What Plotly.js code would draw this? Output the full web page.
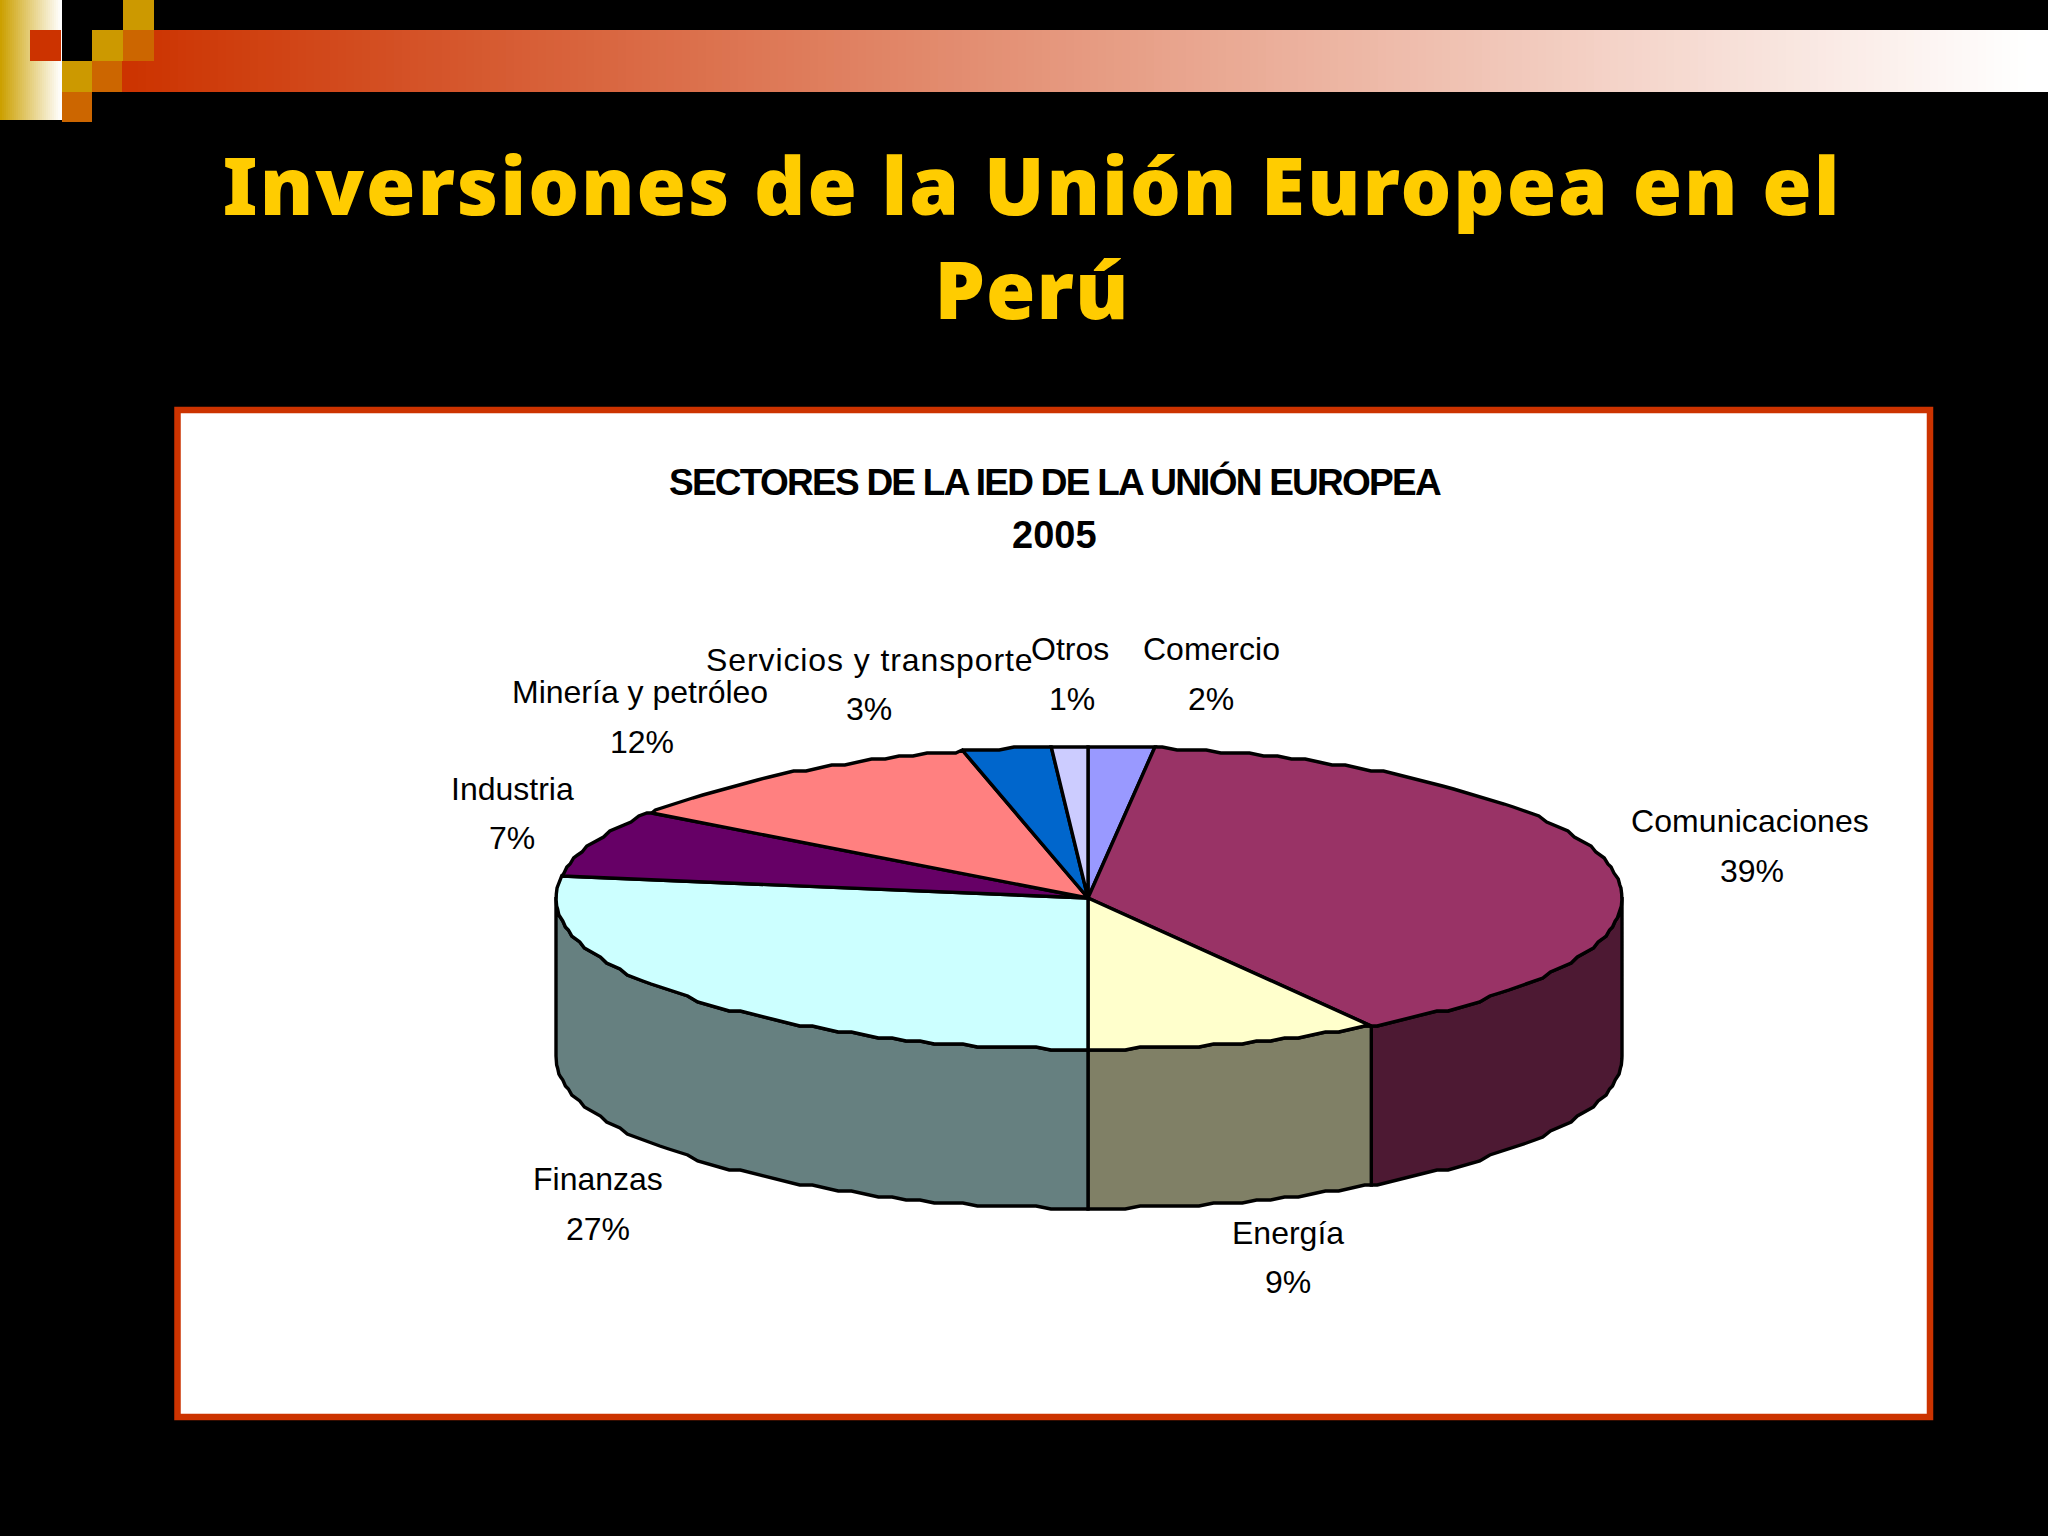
<!DOCTYPE html>
<html><head><meta charset="utf-8">
<script src="https://cdn.plot.ly/plotly-3.0.1.min.js"></script>
<style>html,body{margin:0;padding:0;background:#000}#c{width:2048px;height:1536px}</style>
</head><body><div id="c"></div>
<script>
// --- data (clockwise from 12 o'clock) ---
const sectors = ['Comercio','Comunicaciones','Energía','Finanzas','Industria','Minería y petróleo','Servicios y transporte','Otros'];
const shares  = [2, 39.1, 8.9, 27.4, 7.3, 11.5, 2.7, 1.1];
const topColors  = ['#9999FF','#993366','#FFFFCC','#CCFFFF','#660066','#FF8080','#0066CC','#CCCCFF'];
const sideColors = ['#4D4D80','#4D1933','#808066','#668080','#330033','#804040','#003366','#666680'];
const slideTitle = ['Inversiones de la Unión Europea en el','Perú'];
const chartTitle = ['SECTORES DE LA IED DE LA UNIÓN EUROPEA','2005'];

// --- layout constants ---
const cx=1088, cy=898, rxRight=534, rxLeft=532, ry=151, depth=159, snap=3, stepDeg=1.6;
const nameXY = [[1211,649],[1750,821],[1288,1233],[598,1179],[512,789],[640,692],[869,660],[1070,649]];
const pctXY  = [[1211,699],[1752,871],[1288,1282],[598,1229],[512,838],[642,742],[869,709],[1072,699]];
const nameSpacing = [0,0.1,0,0,0,0,0.9,0];

function pt(deg,dy){const a=deg*Math.PI/180,s=Math.sin(a);
  const y=cy-ry*Math.cos(a);
  return [cx+(s>0?rxRight:rxLeft)*s, Math.round(y/snap)*snap+(dy||0)];}
function arc(a,b,dy){const angs=[a];
  for(let d=Math.floor(a/stepDeg+1)*stepDeg;d<b;d+=stepDeg)if(d-a>0.01)angs.push(d);
  angs.push(b);return angs.map(d=>pt(d,dy));}

const traces=[];
function poly(pts,fill){traces.push({type:'scatter',mode:'lines',x:pts.map(p=>p[0]),y:pts.map(p=>p[1]),
  fill:'toself',fillcolor:fill,line:{color:'#000',width:3.4,shape:'linear'},hoverinfo:'skip',showlegend:false});}

let cum=0;const spans=shares.map(v=>{const s=[cum*3.6,(cum+v)*3.6];cum+=v;return s;});
// walls
spans.forEach((s,i)=>{const a=Math.max(s[0],90),b=Math.min(s[1],270);
  if(b>a){poly([...arc(a,b,0),...arc(a,b,depth).reverse()].concat([pt(a,0)]),sideColors[i]);}});
// top faces
spans.forEach((s,i)=>{poly([[cx,cy],...arc(s[0],s[1],0),[cx,cy]],topColors[i]);});

// --- decoration shapes ---
const shapes=[];
function rect(x0,y0,x1,y1,c){shapes.push({type:'rect',layer:'below',x0,y0,x1,y1,fillcolor:c,line:{width:0}});}
const mix=(a,b,t)=>Math.round(a+(b-a)*t);
for(let x=122;x<2048;x+=8){const t=(x-122)/1900,tt=Math.min(1,t);
  rect(x,x<154?61:30,x+8,92,`rgb(${mix(204,255,tt)},${mix(51,255,tt)},${mix(0,255,tt)})`);}
for(let x=0;x<62;x+=2){const t=x/60;
  rect(x,0,x+2,120,`rgb(${mix(204,255,t)},${mix(160,255,t)},${mix(0,255,t)})`);}
rect(30,30,61,61,'#CC3300');
rect(123,0,154,30,'#CC9900');rect(92,30,123,61,'#CC9900');rect(62,61,92,92,'#CC9900');
rect(123,30,154,61,'#CC6600');rect(92,61,122,92,'#CC6600');rect(62,92,92,122,'#CC6600');
shapes.push({type:'rect',layer:'below',x0:177.5,y0:410,x1:1930,y1:1417,fillcolor:'#fff',line:{color:'#CC3300',width:6.5}});

// --- text ---
const ann=[];
function label(x,y,text,size,bold,sp){
  const inner=sp?`<span style="letter-spacing:${sp}px">${text}</span>`:text;
  ann.push({x,y,xref:'x',yref:'y',text:bold?'<b>'+inner+'</b>':inner,showarrow:false,xanchor:'center',yanchor:'middle',
  font:{family:'"Liberation Sans",Arial,sans-serif',size,color:'#000'}});}
sectors.forEach((s,i)=>{label(nameXY[i][0],nameXY[i][1],s,32,false,nameSpacing[i]);
  label(pctXY[i][0],pctXY[i][1],Math.round(shares[i])+'%',32);});
label(1055,482,chartTitle[0],37,true,-1.75);label(1054,535,chartTitle[1],38,true);

Plotly.newPlot('c',traces,{
  width:2048,height:1536,margin:{l:0,r:0,t:0,b:0},paper_bgcolor:'#000',plot_bgcolor:'rgba(0,0,0,0)',showlegend:false,
  title:{text:`<span style="letter-spacing:1.95px">${slideTitle[0]}</span><br><span style="letter-spacing:1px">${slideTitle[1]}</span>`,
    x:1032/2048,xanchor:'center',y:1-215/1536,yanchor:'middle',
    font:{family:'"Noto Sans",Tahoma,sans-serif',size:80,color:'#FFCC00',weight:900}},
  xaxis:{range:[0,2048],visible:false,fixedrange:true},
  yaxis:{range:[1536,0],visible:false,fixedrange:true},
  shapes,annotations:ann
},{displayModeBar:false,staticPlot:true});
</script></body></html>
